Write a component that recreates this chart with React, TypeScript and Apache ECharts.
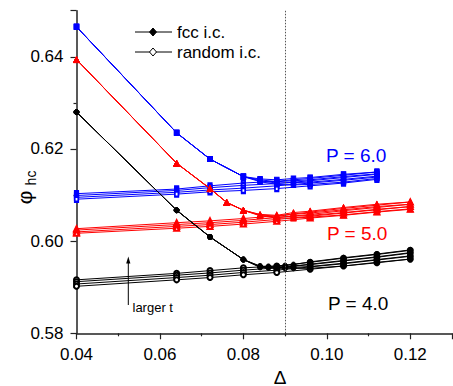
import React, { useEffect, useRef } from "react";
import * as echarts from "echarts";

// ---- data ----
const X_TICKS_MIN = 0.04;
const X_MAX = 0.13;
const Y_MIN = 0.58;
const Y_MAX = 0.65;
const DOTTED_DELTA = 0.0889;

// P = 4.0 (black)
const deltaFccP4 = [0.04, 0.064, 0.072, 0.08, 0.084, 0.086, 0.088, 0.09, 0.092, 0.096, 0.104, 0.112, 0.12];
const fccP4_t1 = [0.628, 0.6067, 0.6009, 0.596, 0.5946, 0.5945, 0.5946, 0.5947, 0.5949, 0.5955, 0.5964, 0.5972, 0.5981];
const fccP4_t2 = [0.628, 0.6067, 0.6009, 0.596, 0.5945, 0.5944, 0.5944, 0.5945, 0.5946, 0.595, 0.5958, 0.5966, 0.5975];
const fccP4_t3 = [0.628, 0.6067, 0.6009, 0.596, 0.5944, 0.5943, 0.5942, 0.5943, 0.5943, 0.5945, 0.5952, 0.596, 0.5968];
const fccP4_t4 = [0.628, 0.6067, 0.6009, 0.596, 0.5943, 0.5942, 0.5941, 0.5941, 0.5941, 0.5941, 0.5946, 0.5954, 0.5961];
const deltaRndP4 = [0.04, 0.064, 0.072, 0.08, 0.088, 0.096, 0.104, 0.112, 0.12];
const rndP4_t1 = [0.5916, 0.593, 0.5936, 0.5942, 0.5946, 0.5954, 0.5963, 0.5971, 0.598];
const rndP4_t2 = [0.5912, 0.5926, 0.5931, 0.5937, 0.5942, 0.5949, 0.5957, 0.5965, 0.5974];
const rndP4_t3 = [0.5907, 0.5921, 0.5926, 0.5932, 0.5937, 0.5944, 0.5951, 0.5959, 0.5967];
const rndP4_t4 = [0.5902, 0.5916, 0.5921, 0.5927, 0.5932, 0.5939, 0.5946, 0.5953, 0.5961];

// P = 5.0 (red)
const deltaFccP5 = [0.04, 0.064, 0.072, 0.076, 0.08, 0.084, 0.088, 0.092, 0.096, 0.104, 0.112, 0.12];
const fccP5_t1 = [0.6394, 0.6169, 0.6114, 0.6084, 0.6067, 0.6058, 0.6056, 0.6062, 0.6065, 0.6073, 0.608, 0.6085];
const fccP5_t2 = [0.6394, 0.6169, 0.6114, 0.6084, 0.6067, 0.6057, 0.6054, 0.6058, 0.6061, 0.6068, 0.6075, 0.608];
const fccP5_t3 = [0.6394, 0.6169, 0.6114, 0.6084, 0.6067, 0.6056, 0.6052, 0.6054, 0.6056, 0.6062, 0.6069, 0.6075];
const fccP5_t4 = [0.6394, 0.6169, 0.6114, 0.6084, 0.6067, 0.6055, 0.605, 0.605, 0.6052, 0.6057, 0.6064, 0.607];
const deltaRndP5 = [0.04, 0.064, 0.072, 0.08, 0.088, 0.096, 0.104, 0.112, 0.12];
const rndP5_t1 = [0.6027, 0.604, 0.6044, 0.6049, 0.6055, 0.6063, 0.6071, 0.6078, 0.6085];
const rndP5_t2 = [0.6024, 0.6036, 0.604, 0.6045, 0.6051, 0.6058, 0.6066, 0.6073, 0.608];
const rndP5_t3 = [0.602, 0.6032, 0.6036, 0.6041, 0.6047, 0.6054, 0.6061, 0.6068, 0.6075];
const rndP5_t4 = [0.6017, 0.6028, 0.6032, 0.6037, 0.6043, 0.605, 0.6056, 0.6063, 0.6069];

// P = 6.0 (blue)
const deltaFccP6 = [0.04, 0.064, 0.072, 0.08, 0.084, 0.088, 0.092, 0.096, 0.104, 0.112];
const fccP6_t1 = [0.6465, 0.6235, 0.6178, 0.614, 0.6135, 0.6133, 0.6136, 0.6138, 0.6145, 0.615];
const fccP6_t2 = [0.6465, 0.6235, 0.6178, 0.614, 0.6133, 0.6129, 0.6131, 0.6133, 0.614, 0.6146];
const fccP6_t3 = [0.6465, 0.6235, 0.6178, 0.614, 0.6131, 0.6126, 0.6127, 0.6128, 0.6134, 0.6141];
const fccP6_t4 = [0.6465, 0.6235, 0.6178, 0.614, 0.6129, 0.6123, 0.6122, 0.6123, 0.6128, 0.6136];
const deltaRndP6 = [0.04, 0.064, 0.072, 0.08, 0.088, 0.096, 0.104, 0.112];
const rndP6_t1 = [0.6103, 0.6113, 0.612, 0.6126, 0.613, 0.6136, 0.6143, 0.615];
const rndP6_t2 = [0.6099, 0.611, 0.6116, 0.6121, 0.6125, 0.6131, 0.6138, 0.6145];
const rndP6_t3 = [0.6095, 0.6106, 0.6111, 0.6115, 0.612, 0.6126, 0.6132, 0.6139];
const rndP6_t4 = [0.6091, 0.6102, 0.6107, 0.611, 0.6114, 0.612, 0.6126, 0.6134];

const legendLabels = ["fcc i.c.", "random i.c."];
const pLabels = ["P = 6.0", "P = 5.0", "P = 4.0"];

const FONT = "'Liberation Sans', Arial, sans-serif";
const BLACK = "#000000";
const RED = "#ff0000";
const BLUE = "#0000ff";

function pairs(xs: number[], ys: number[]) {
  return xs.map((x, i) => [x, ys[i]]);
}

function mkSeries(
  xs: number[],
  ys: number[],
  color: string,
  symbol: string,
  size: number | number[],
  z: number
) {
  return {
    type: "line",
    data: pairs(xs, ys),
    symbol,
    symbolSize: size,
    showSymbol: true,
    lineStyle: { color, width: 1 },
    itemStyle: { color, borderColor: color, borderWidth: 1 },
    z,
    silent: true,
  };
}

export default function App() {
  const ref = useRef<HTMLDivElement>(null);
  useEffect(() => {
    if (!ref.current) return;
    document.body.style.margin = "0";
    const chart = echarts.init(ref.current, null, { renderer: "svg" });

    const series: any[] = [];
    // random i.c. (open markers)
    [rndP4_t1, rndP4_t2, rndP4_t3, rndP4_t4].forEach((s) =>
      series.push(mkSeries(deltaRndP4, s, BLACK, "emptyCircle", 5, 2))
    );
    [rndP5_t1, rndP5_t2, rndP5_t3, rndP5_t4].forEach((s) =>
      series.push(mkSeries(deltaRndP5, s, RED, "emptyTriangle", 5, 2))
    );
    [rndP6_t1, rndP6_t2, rndP6_t3, rndP6_t4].forEach((s) =>
      series.push(mkSeries(deltaRndP6, s, BLUE, "emptyRect", [3.5, 5], 2))
    );
    // fcc i.c. (filled markers)
    [fccP4_t4, fccP4_t3, fccP4_t2, fccP4_t1].forEach((s) =>
      series.push(mkSeries(deltaFccP4, s, BLACK, "circle", 5, 3))
    );
    [fccP5_t4, fccP5_t3, fccP5_t2, fccP5_t1].forEach((s) =>
      series.push(mkSeries(deltaFccP5, s, RED, "triangle", 6, 3))
    );
    [fccP6_t4, fccP6_t3, fccP6_t2, fccP6_t1].forEach((s) =>
      series.push(mkSeries(deltaFccP6, s, BLUE, "rect", [4.5, 5], 3))
    );
    series[0].markLine = {
      symbol: "none",
      silent: true,
      label: { show: false },
      lineStyle: { type: [1.5, 1.5], color: "#555555", width: 1 },
      data: [{ xAxis: DOTTED_DELTA }],
    };

    const diamond = (cx: number, cy: number) => [
      [cx, cy - 4],
      [cx + 3.5, cy],
      [cx, cy + 4],
      [cx - 3.5, cy],
    ];

    chart.setOption({
      animation: false,
      backgroundColor: "#ffffff",
      grid: { left: 76.5, right: 1, top: 10.7, bottom: 52.7 },
      xAxis: {
        type: "value",
        min: X_TICKS_MIN,
        max: X_MAX,
        interval: 0.02,
        axisLine: { show: true, lineStyle: { color: "#222", width: 1.5 } },
        axisTick: { show: true, length: 6, inside: false, lineStyle: { color: "#222", width: 1.2 } },
        minorTick: { show: true, splitNumber: 2, length: 3, lineStyle: { color: "#222", width: 1.2 } },
        splitLine: { show: false },
        axisLabel: {
          showMaxLabel: false,
          margin: 13,
          color: "#000",
          fontSize: 17,
          fontFamily: FONT,
          formatter: (v: number) => v.toFixed(2),
        },
      },
      yAxis: {
        type: "value",
        min: Y_MIN,
        max: Y_MAX,
        interval: 0.02,
        axisLine: { show: true, lineStyle: { color: "#222", width: 1.5 } },
        axisTick: { show: true, length: 6, inside: false, lineStyle: { color: "#222", width: 1.2 } },
        minorTick: { show: true, splitNumber: 2, length: 3, lineStyle: { color: "#222", width: 1.2 } },
        splitLine: { show: false },
        axisLabel: {
          showMaxLabel: false,
          margin: 13,
          color: "#000",
          fontSize: 17,
          fontFamily: FONT,
          formatter: (v: number) => v.toFixed(2),
        },
      },
      series,
      graphic: [
        // legend
        { type: "line", shape: { x1: 135, y1: 32, x2: 172, y2: 32 }, style: { stroke: "#000", lineWidth: 1 }, z: 100 },
        { type: "polygon", shape: { points: diamond(153, 32) }, style: { fill: "#000", stroke: "#000", lineWidth: 1 }, z: 101 },
        { type: "text", x: 177, y: 32, style: { text: legendLabels[0], fontSize: 17, fontFamily: FONT, fill: "#000", verticalAlign: "middle" }, z: 100 },
        { type: "line", shape: { x1: 135, y1: 52, x2: 172, y2: 52 }, style: { stroke: "#000", lineWidth: 1 }, z: 100 },
        { type: "polygon", shape: { points: diamond(153, 52) }, style: { fill: "#fff", stroke: "#000", lineWidth: 1 }, z: 101 },
        { type: "text", x: 177, y: 52, style: { text: legendLabels[1], fontSize: 17, fontFamily: FONT, fill: "#000", verticalAlign: "middle" }, z: 100 },
        // P labels
        { type: "text", x: 326, y: 155, style: { text: pLabels[0], fontSize: 19, fontFamily: FONT, fill: BLUE, verticalAlign: "middle" }, z: 100 },
        { type: "text", x: 327, y: 233, style: { text: pLabels[1], fontSize: 19, fontFamily: FONT, fill: RED, verticalAlign: "middle" }, z: 100 },
        { type: "text", x: 328, y: 303, style: { text: pLabels[2], fontSize: 19, fontFamily: FONT, fill: BLACK, verticalAlign: "middle" }, z: 100 },
        // larger t arrow
        { type: "line", shape: { x1: 128.3, y1: 305, x2: 128.3, y2: 262 }, style: { stroke: "#000", lineWidth: 1 }, z: 100 },
        { type: "polygon", shape: { points: [[128.3, 256.5], [126.2, 263.5], [130.4, 263.5]] }, style: { fill: "#000" }, z: 100 },
        { type: "text", x: 132.5, y: 307, style: { text: "larger t", fontSize: 13, fontFamily: FONT, fill: "#000", verticalAlign: "middle" }, z: 100 },
        // axis names
        { type: "text", x: 280, y: 377, style: { text: "Δ", fontSize: 19, fontFamily: FONT, fill: "#000", align: "center", verticalAlign: "middle" }, z: 100 },
        { type: "text", x: 24, y: 197.5, rotation: Math.PI / 2, style: { text: "φ", fontSize: 21, fontFamily: FONT, fill: "#000", align: "center", verticalAlign: "middle" }, z: 100 },
        { type: "text", x: 30.5, y: 178, rotation: Math.PI / 2, style: { text: "hc", fontSize: 14, fontFamily: FONT, fill: "#000", align: "center", verticalAlign: "middle" }, z: 100 },
      ],
    });
    return () => chart.dispose();
  }, []);
  return <div ref={ref} style={{ width: 453, height: 386 }} />;
}
